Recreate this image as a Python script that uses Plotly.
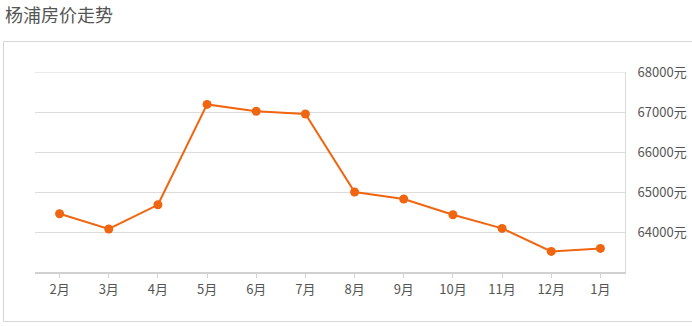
import plotly.graph_objects as go

months = ["2月", "3月", "4月", "5月", "6月", "7月", "8月", "9月", "10月", "11月", "12月", "1月"]
prices = [64455, 64075, 64680, 67190, 67020, 66950, 65000, 64825, 64430, 64090, 63515, 63590]
ytick_vals = [64000, 65000, 66000, 67000, 68000]
ytick_text = [f"{v}元" for v in ytick_vals]
title_text = "杨浦房价走势"

W, H = 692, 326
L, R, T, B = 35, 67, 72, 54
pw, ph = W - L - R, H - T - B

def px_x(p):
    return (p - L) / pw

def px_y(p):
    return (H - B - p) / ph

font_family = "Noto Sans CJK SC, Open Sans, sans-serif"

fig = go.Figure()
fig.add_trace(go.Scatter(
    x=months, y=prices, mode="lines+markers",
    line=dict(color="#f0650f", width=2),
    marker=dict(color="#f0650f", size=9),
    hoverinfo="x+y", showlegend=False,
))

fig.update_layout(
    width=W, height=H,
    margin=dict(l=L, r=R, t=T, b=B, pad=0, autoexpand=False),
    paper_bgcolor="white", plot_bgcolor="white",
    font=dict(family=font_family, color="#555", size=12),
    xaxis=dict(
        type="category", range=[-0.5, 11.5],
        showgrid=False, zeroline=False,
        showline=True, linecolor="#d0d0d0", linewidth=2,
        ticks="outside", ticklen=4, tickcolor="#d0d0d0", tickwidth=1,
        tickfont=dict(size=13, color="#555", family=font_family),
        fixedrange=True, automargin=False,
    ),
    yaxis=dict(
        range=[63000, 68000], side="right",
        tickvals=ytick_vals, ticktext=ytick_text,
        showgrid=True, gridcolor="#dcdcdc", gridwidth=1,
        zeroline=False,
        showline=True, linecolor="#dcdcdc", linewidth=1,
        ticks="", ticklabelstandoff=9,
        tickfont=dict(size=13, color="#555", family=font_family),
        fixedrange=True, automargin=False,
    ),
    shapes=[
        dict(
            type="rect", xref="paper", yref="paper",
            x0=px_x(3.5), x1=px_x(720), y0=px_y(321.5), y1=px_y(41.5),
            line=dict(color="#d6d6d6", width=1), fillcolor="rgba(0,0,0,0)",
            layer="below",
        ),
        dict(
            type="line", xref="paper", yref="y",
            x0=0, x1=1, y0=ytick_vals[-1], y1=ytick_vals[-1],
            line=dict(color="#d6d6d6", width=1), layer="above",
        ),
    ],
    annotations=[dict(
        text=title_text, xref="paper", yref="paper",
        x=px_x(3), y=px_y(14), xanchor="left", yanchor="middle",
        showarrow=False, font=dict(size=18, color="#555", family=font_family),
    )],
)

fig.write_html("out.html")
